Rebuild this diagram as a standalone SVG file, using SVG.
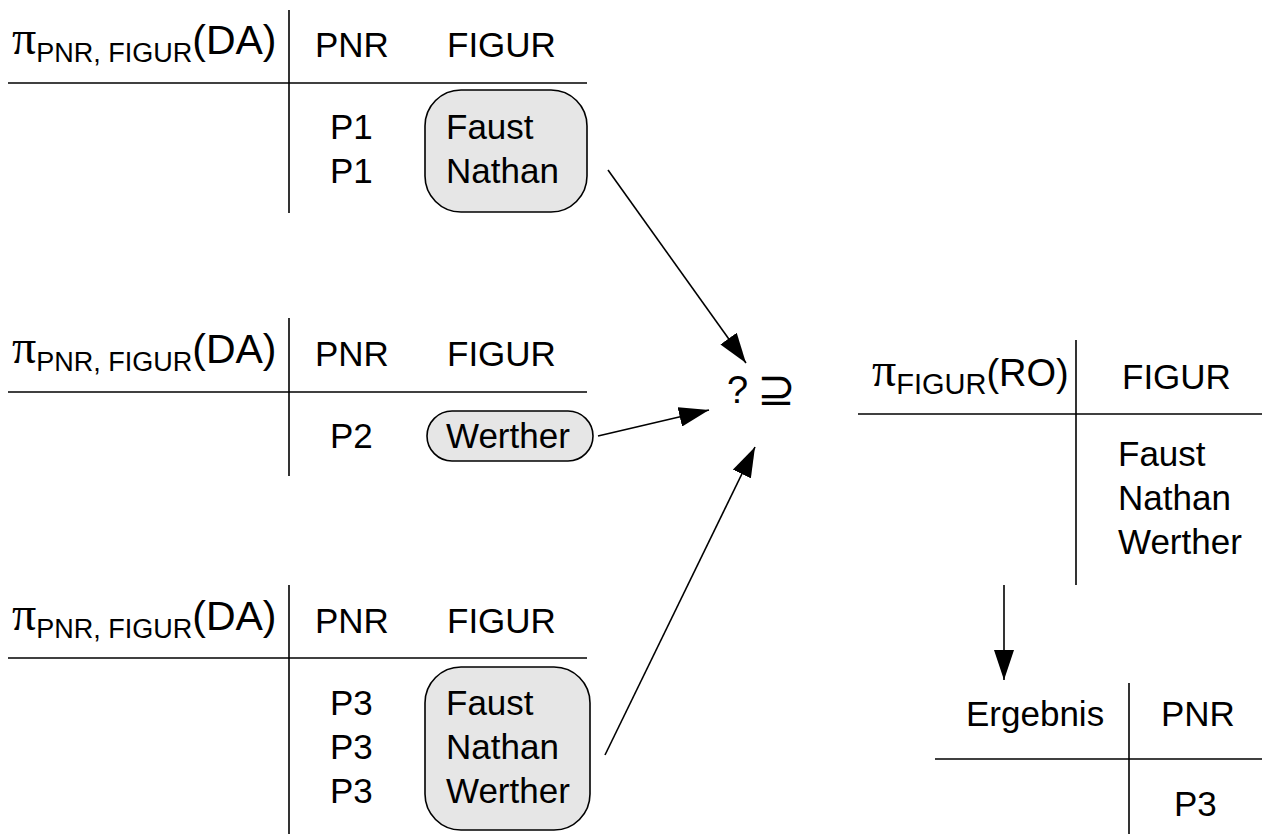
<svg xmlns="http://www.w3.org/2000/svg" width="1262" height="834" viewBox="0 0 1262 834">
<defs>
<style>
text{font-family:"Liberation Sans",Arial,sans-serif;font-size:35px;fill:#000}
.pi{font-family:"Liberation Serif","DejaVu Serif",serif;font-size:48px}
.sub{font-size:27px}
.par{font-size:41px}
.sub2{font-size:29px}
.par2{font-size:38px}
.q{font-size:38px}
.sup{font-family:"DejaVu Sans",sans-serif;font-size:46px}
.ln{stroke:#000;stroke-width:1.6;fill:none}
.box{fill:#e6e6e6;stroke:#000;stroke-width:1.6}
.arr{stroke:#000;stroke-width:1.6;fill:none;marker-end:url(#ah)}
</style>
<marker id="ah" viewBox="0 0 30 20" refX="30" refY="10" markerWidth="30" markerHeight="20" markerUnits="userSpaceOnUse" orient="auto">
<path d="M0,0 L30,10 L0,20 Z" fill="#000"/>
</marker>
</defs>
<rect width="1262" height="834" fill="#fff"/>

<g id="table-da1">
<line class="ln" x1="289" y1="10" x2="289" y2="213"/>
<line class="ln" x1="8" y1="83" x2="587" y2="83"/>
<text x="12" y="54"><tspan class="pi">π</tspan><tspan class="sub" dy="8">PNR, FIGUR</tspan><tspan class="par" dy="-8">(DA)</tspan></text>
<text x="315" y="57">PNR</text>
<text x="447" y="57">FIGUR</text>
<rect class="box" x="425" y="90" width="162" height="122" rx="36" ry="36"/>
<text x="330" y="139">P1</text>
<text x="330" y="183">P1</text>
<text x="446" y="139">Faust</text>
<text x="446" y="183">Nathan</text>
</g>

<g id="table-da2">
<line class="ln" x1="289" y1="318" x2="289" y2="476"/>
<line class="ln" x1="8" y1="392" x2="587" y2="392"/>
<text x="12" y="363"><tspan class="pi">π</tspan><tspan class="sub" dy="8">PNR, FIGUR</tspan><tspan class="par" dy="-8">(DA)</tspan></text>
<text x="315" y="366">PNR</text>
<text x="447" y="366">FIGUR</text>
<rect class="box" x="427" y="411" width="166" height="50" rx="25" ry="25"/>
<text x="330" y="448">P2</text>
<text x="446" y="448">Werther</text>
</g>

<g id="table-da3">
<line class="ln" x1="289" y1="585" x2="289" y2="834"/>
<line class="ln" x1="8" y1="658" x2="587" y2="658"/>
<text x="12" y="630"><tspan class="pi">π</tspan><tspan class="sub" dy="8">PNR, FIGUR</tspan><tspan class="par" dy="-8">(DA)</tspan></text>
<text x="315" y="633">PNR</text>
<text x="447" y="633">FIGUR</text>
<rect class="box" x="425" y="667" width="165" height="163" rx="36" ry="36"/>
<text x="330" y="715">P3</text>
<text x="330" y="759">P3</text>
<text x="330" y="803">P3</text>
<text x="446" y="715">Faust</text>
<text x="446" y="759">Nathan</text>
<text x="446" y="803">Werther</text>
</g>

<g id="subset-op">
<text class="q" x="727" y="403">?</text>
<text class="sup" x="757" y="405">⊇</text>
</g>

<g id="table-ro">
<line class="ln" x1="1076" y1="340" x2="1076" y2="585"/>
<line class="ln" x1="858" y1="414" x2="1262" y2="414"/>
<text x="872" y="386"><tspan class="pi">π</tspan><tspan class="sub2" dy="8">FIGUR</tspan><tspan class="par2" dy="-8">(RO)</tspan></text>
<text x="1122" y="389">FIGUR</text>
<text x="1118" y="466">Faust</text>
<text x="1118" y="510">Nathan</text>
<text x="1118" y="554">Werther</text>
</g>

<g id="table-ergebnis">
<line class="ln" x1="1129" y1="683" x2="1129" y2="834"/>
<line class="ln" x1="935" y1="759" x2="1262" y2="759"/>
<text x="966" y="726">Ergebnis</text>
<text x="1161" y="726">PNR</text>
<text x="1174" y="816">P3</text>
</g>

<g id="connectors">
<line class="arr" x1="608" y1="170" x2="746" y2="363"/>
<line class="arr" x1="598" y1="436" x2="709" y2="410"/>
<line class="arr" x1="605" y1="755" x2="755" y2="447"/>
<line class="arr" x1="1004" y1="585" x2="1004" y2="680"/>
</g>
</svg>
